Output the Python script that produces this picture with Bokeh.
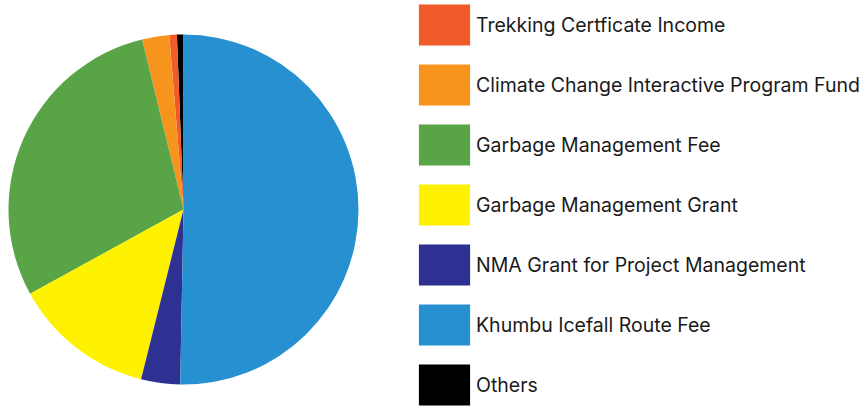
import math
from bokeh.plotting import figure
from bokeh.models import Legend, LegendItem, Range1d
from bokeh.embed import file_html
from bokeh.resources import INLINE

categories = [
    "Trekking Certficate Income",
    "Climate Change Interactive Program Fund",
    "Garbage Management Fee",
    "Garbage Management Grant",
    "NMA Grant for Project Management",
    "Khumbu Icefall Route Fee",
    "Others",
]
shares = [0.7, 2.5, 29.2, 13.1, 3.6, 50.3, 0.6]
colors = ["#F15A29", "#F7941D", "#58A446", "#FFF200", "#2E3192", "#2690D0", "#000000"]

W, H = 862, 406
p = figure(width=W, height=H, output_backend="svg", toolbar_location=None,
           x_range=Range1d(0, W), y_range=Range1d(0, H), min_border=0)
p.axis.visible = False
p.grid.visible = False
p.outline_line_color = None

# slices go counter-clockwise from 12 o'clock: Others first, then legend order
order = [6, 0, 1, 2, 3, 4, 5]
total = sum(shares)
start = math.pi / 2
renderers = {}
for i in order:
    ang = shares[i] / total * 2 * math.pi
    r = p.wedge(x=183, y=197, radius=175, radius_units="screen",
                start_angle=start, end_angle=start + ang,
                fill_color=colors[i], line_color=None)
    renderers[i] = r
    start += ang

items = [LegendItem(label=categories[i], renderers=[renderers[i]]) for i in range(len(categories))]
legend = Legend(items=items, location=(412, -4), orientation="vertical",
                glyph_width=64, glyph_height=51, spacing=9, label_standoff=0,
                label_text_font="Inter", label_text_font_size="19.5px",
                label_text_color="#1a1a1a", padding=0, margin=0,
                border_line_color=None, background_fill_alpha=0)
p.add_layout(legend, "center")

open("out.html", "w").write(file_html(p, INLINE))
